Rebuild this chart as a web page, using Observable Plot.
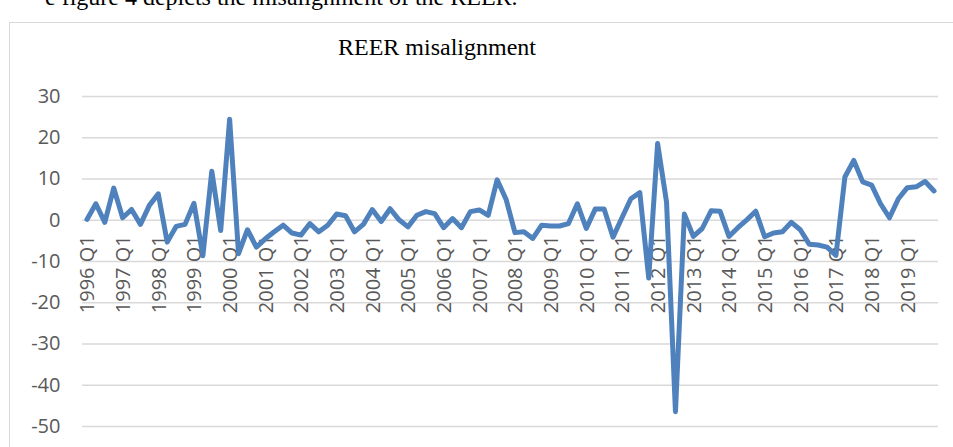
<!DOCTYPE html>
<html>
<head>
<meta charset="utf-8">
<script src="https://cdn.jsdelivr.net/npm/d3@7"></script>
<script src="https://cdn.jsdelivr.net/npm/@observablehq/plot@0.6"></script>
<style>
  html, body { margin: 0; padding: 0; background: #fff; }
  #wrap { position: relative; width: 953px; height: 447px; overflow: hidden; background: #fff; }
  #doctext { position: absolute; left: 45px; top: -16px; font-family: "Liberation Serif", "Times New Roman", serif; font-size: 24px; color: #000; white-space: nowrap; }
  #frame { position: absolute; left: 9px; top: 22px; width: 1000px; height: 500px; border: 1px solid #d9d9d9; box-sizing: border-box; }
  #title { position: absolute; left: 0; width: 874px; top: 34px; text-align: center; font-family: "Liberation Serif", "Times New Roman", serif; font-size: 24px; color: #000; }
  #chart { position: absolute; left: 0; top: 0; }
</style>
</head>
<body>
<div id="wrap">
  <div id="doctext">e figure 4 depicts the misalignment of the REER.</div>
  <div id="frame"></div>
  <div id="title">REER misalignment</div>
  <div id="chart"></div>
</div>
<script>
const years = [1996,1997,1998,1999,2000,2001,2002,2003,2004,2005,2006,2007,2008,2009,2010,2011,2012,2013,2014,2015,2016,2017,2018,2019];
const quarterNames = ["Q1","Q2","Q3","Q4"];
const quarters = years.flatMap(y => quarterNames.map(q => `${y} ${q}`));

const misalignment = [
  0.2, 4.0, -0.5, 7.8,
  0.6, 2.6, -1.0, 3.6,
  6.4, -5.3, -1.5, -1.0,
  4.1, -8.6, 11.9, -2.5,
  24.5, -8.1, -2.3, -6.5,
  -4.5, -2.8, -1.2, -3.1,
  -3.6, -0.8, -2.8, -1.2,
  1.5, 1.1, -2.8, -1.0,
  2.6, -0.3, 2.8, 0.1,
  -1.6, 1.2, 2.1, 1.6,
  -1.8, 0.4, -1.8, 2.1,
  2.5, 1.2, 9.8, 5.1,
  -3.0, -2.8, -4.4, -1.2,
  -1.4, -1.4, -0.8, 4.0,
  -2.0, 2.7, 2.7, -4.1,
  0.6, 5.2, 6.7, -14.0,
  18.6, 4.4, -46.4, 1.5,
  -3.9, -2.0, 2.3, 2.2,
  -3.9, -1.8, 0.1, 2.2,
  -4.0, -3.1, -2.8, -0.5,
  -2.3, -5.8, -6.0, -6.5,
  -8.5, 10.5, 14.5, 9.3,
  8.5, 4.0, 0.6, 5.2,
  7.9, 8.1, 9.4, 7.1
];

const yTicks = [30, 20, 10, 0, -10, -20, -30, -40, -50];
const xTickLabels = quarters.filter(q => q.endsWith("Q1"));

const data = quarters.map((q, i) => ({q, v: misalignment[i]}));

const chart = Plot.plot({
  width: 953,
  height: 447,
  marginLeft: 82,
  marginRight: 15,
  marginTop: 96,
  marginBottom: 21,
  style: { background: "transparent", fontFamily: "'Open Sans', sans-serif", fontSize: "20px", overflow: "visible" },
  x: { type: "point", domain: quarters, padding: 0.5, axis: null },
  y: { domain: [-50, 30], axis: null },
  marks: [
    Plot.ruleY(yTicks, { stroke: "#d9d9d9", strokeWidth: 1.5 }),
    Plot.axisY(yTicks, { label: null, tickSize: 0, tickPadding: 22, tickFormat: d => `${d}`, fontSize: 20, fill: "#595959", fontFamily: "'Open Sans', sans-serif" }),
    Plot.text(xTickLabels, {
      x: d => d, y: () => 0, text: d => d, rotate: -90, textAnchor: "end",
      dy: 15, dx: 1, fontSize: 20, fill: "#595959", fontFamily: "'Open Sans', sans-serif", lineAnchor: "middle"
    }),
    Plot.line(data, { x: "q", y: "v", stroke: "#4f81bd", strokeWidth: 5, strokeLinejoin: "round", strokeLinecap: "round" })
  ]
});
document.getElementById("chart").appendChild(chart);
</script>
</body>
</html>
